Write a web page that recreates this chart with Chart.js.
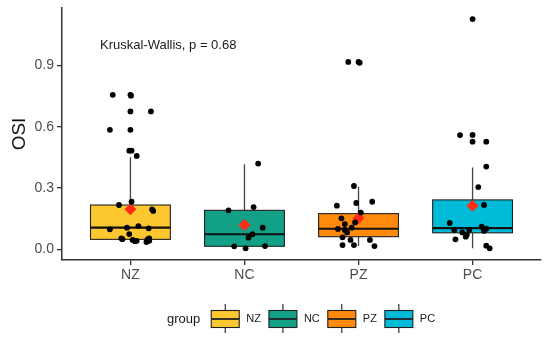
<!DOCTYPE html>
<html>
<head>
<meta charset="utf-8">
<script src="https://cdn.jsdelivr.net/npm/chart.js@4/dist/chart.umd.min.js"></script>
<style>
html,body{margin:0;padding:0;background:#fff;}
#wrap{width:550px;height:344px;}
</style>
</head>
<body>
<div id="wrap"><canvas id="c" width="550" height="344"></canvas></div>
<script>
// groups and box stats
var groups = ['NZ', 'NC', 'PZ', 'PC'];
var boxColors = ['#FDC82F', '#12A086', '#FF8A0C', '#00BBD7'];
var q1 = [0.049, 0.015, 0.062, 0.081];
var medians = [0.106, 0.074, 0.101, 0.104];
var q3 = [0.217, 0.191, 0.175, 0.242];
var whiskLo = [0.036, 0.005, 0.016, 0.005];
var whiskHi = [0.451, 0.417, 0.307, 0.400];
var means = [0.196, 0.119, 0.152, 0.214];
var yTicks = [0, 0.3, 0.6, 0.9];
var testLabel = 'Kruskal-Wallis, p = 0.68';

// jittered points: [offset from group centre, OSI]
var nzPts = [[-0.155,0.756],[0,0.756],[0.005,0.752],[0,0.675],[0.18,0.675],[-0.18,0.585],[0,0.585],
  [-0.01,0.483],[0.01,0.483],[0.055,0.457],[0.01,0.233],[-0.1,0.217],[0.19,0.196],[0.2,0.188],
  [-0.18,0.098],[-0.03,0.106],[0.07,0.114],[0.16,0.103],[-0.01,0.075],[-0.08,0.054],[-0.07,0.05],
  [0.02,0.046],[0.055,0.042],[0.04,0.04],[0.165,0.054],[0.165,0.042],[0.15,0.049],[0.14,0.036]];
var ncPts = [[0.12,0.42],[-0.14,0.191],[0.08,0.207],[0.16,0.106],[0.07,0.074],[0.035,0.057],
  [-0.09,0.015],[0.01,0.005],[0.18,0.016]];
var pzPts = [[-0.09,0.917],[0,0.917],[0.01,0.913],[-0.04,0.31],[-0.19,0.214],[-0.02,0.227],[0.12,0.233],
  [0.02,0.18],[-0.15,0.152],[-0.12,0.124],[-0.18,0.1],[-0.06,0.106],[-0.03,0.132],[-0.12,0.095],
  [-0.1,0.083],[-0.14,0.059],[-0.07,0.046],[0.1,0.046],[-0.14,0.021],[-0.04,0.021],[0.14,0.016]];
var pcPts = [[0,1.127],[-0.11,0.559],[0,0.56],[0,0.527],[0.12,0.527],[0.12,0.405],[0.05,0.305],
  [0.1,0.217],[-0.2,0.129],[-0.16,0.095],[-0.09,0.083],[-0.05,0.072],[-0.03,0.095],[0.08,0.111],
  [0.12,0.101],[0.1,0.091],[-0.15,0.049],[-0.06,0.062],[0.12,0.018],[0.15,0.005]];

var font = "'Liberation Sans', Arial, sans-serif";
var boxWidth = 0.7;

var points = [];
[nzPts, ncPts, pzPts, pcPts].forEach(function(list, i){
  list.forEach(function(p){ points.push({x: i + 1 + p[0], y: p[1]}); });
});
var meanPts = means.map(function(m, i){ return {x: i + 1, y: m}; });

var boxPlugin = {
  id: 'boxes',
  beforeDatasetsDraw: function(chart){
    var ctx = chart.ctx, xs = chart.scales.x, ys = chart.scales.y;
    ctx.save();
    for (var i = 0; i < groups.length; i++){
      var cx = xs.getPixelForValue(i + 1);
      var half = xs.getPixelForValue(i + 1 + boxWidth / 2) - cx;
      var top = ys.getPixelForValue(q3[i]), bot = ys.getPixelForValue(q1[i]);
      ctx.strokeStyle = '#444';
      ctx.lineWidth = 1.3;
      ctx.beginPath();
      ctx.moveTo(cx, ys.getPixelForValue(whiskHi[i])); ctx.lineTo(cx, top);
      ctx.moveTo(cx, bot); ctx.lineTo(cx, ys.getPixelForValue(whiskLo[i]));
      ctx.stroke();
      ctx.fillStyle = boxColors[i];
      ctx.fillRect(cx - half, top, half * 2, bot - top);
      ctx.strokeStyle = '#222';
      ctx.lineWidth = 1.1;
      ctx.strokeRect(cx - half, top, half * 2, bot - top);
      var my = ys.getPixelForValue(medians[i]);
      ctx.lineWidth = 2.2;
      ctx.strokeStyle = '#111';
      ctx.beginPath();
      ctx.moveTo(cx - half, my); ctx.lineTo(cx + half, my);
      ctx.stroke();
    }
    ctx.restore();
  }
};

var extrasPlugin = {
  id: 'extras',
  afterDraw: function(chart){
    var ctx = chart.ctx, xs = chart.scales.x, ys = chart.scales.y;
    ctx.save();
    // test annotation
    ctx.fillStyle = '#1a1a1a';
    ctx.font = '13px ' + font;
    ctx.textBaseline = 'middle';
    ctx.textAlign = 'left';
    ctx.fillText(testLabel, xs.getPixelForValue(0.733), ys.getPixelForValue(1.0));

    // legend
    var y = 319;
    var x = 167;
    ctx.font = '13px ' + font;
    ctx.fillStyle = '#1a1a1a';
    ctx.fillText('group', x, y);
    x += ctx.measureText('group').width + 11;
    ctx.font = '11px ' + font;
    for (var i = 0; i < groups.length; i++){
      var w = 28, h = 17;
      ctx.strokeStyle = '#222';
      ctx.lineWidth = 1.1;
      ctx.beginPath();
      ctx.moveTo(x + w / 2, y - 15); ctx.lineTo(x + w / 2, y + 14);
      ctx.stroke();
      ctx.fillStyle = boxColors[i];
      ctx.fillRect(x, y - h / 2, w, h);
      ctx.strokeRect(x, y - h / 2, w, h);
      ctx.lineWidth = 1.8;
      ctx.beginPath();
      ctx.moveTo(x, y); ctx.lineTo(x + w, y);
      ctx.stroke();
      x += w + 7;
      ctx.fillStyle = '#1a1a1a';
      ctx.fillText(groups[i], x, y);
      x += ctx.measureText(groups[i]).width + 8;
    }
    ctx.restore();
  }
};

new Chart(document.getElementById('c'), {
  type: 'scatter',
  data: {
    datasets: [{
      data: points,
      backgroundColor: '#000',
      borderWidth: 0,
      pointRadius: 2.9
    }, {
      data: meanPts,
      pointStyle: 'rectRot',
      backgroundColor: '#FF2B12',
      borderWidth: 0,
      pointRadius: 6
    }]
  },
  options: {
    responsive: false,
    animation: false,
    events: [],
    layout: {padding: {top: 8, right: 9, bottom: 0, left: 0}},
    plugins: {legend: {display: false}, tooltip: {enabled: false}},
    scales: {
      x: {
        type: 'linear',
        min: 0.4,
        max: 4.6,
        afterBuildTicks: function(s){ s.ticks = groups.map(function(g, i){ return {value: i + 1}; }); },
        afterFit: function(s){ s.height = 84; s.paddingLeft = 0; s.paddingRight = 0; },
        ticks: {
          callback: function(v){ return groups[v - 1]; },
          color: '#4d4d4d',
          font: {family: font, size: 14},
          padding: 2,
          maxRotation: 0
        },
        grid: {drawOnChartArea: false, drawTicks: true, tickLength: 5, color: '#333', lineWidth: 1.3},
        border: {display: true, color: '#333', width: 1.5}
      },
      y: {
        min: -0.052,
        max: 1.181,
        afterBuildTicks: function(s){ s.ticks = yTicks.map(function(v){ return {value: v}; }); },
        afterFit: function(s){ s.width = 62; s.paddingTop = 0; s.paddingBottom = 0; },
        ticks: {
          callback: function(v){ return v.toFixed(1); },
          color: '#4d4d4d',
          font: {family: font, size: 14},
          padding: 3
        },
        title: {
          display: true,
          text: 'OSI',
          color: '#111',
          font: {family: font, size: 19},
          padding: {top: 8, bottom: 4}
        },
        grid: {drawOnChartArea: false, drawTicks: true, tickLength: 5, color: '#333', lineWidth: 1.3},
        border: {display: true, color: '#333', width: 1.5}
      }
    }
  },
  plugins: [boxPlugin, extrasPlugin]
});
</script>
</body>
</html>
